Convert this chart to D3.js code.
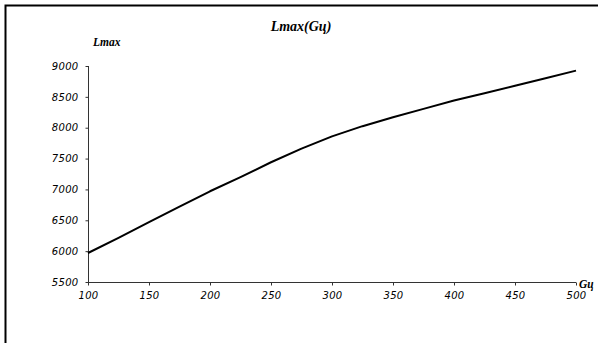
<!DOCTYPE html>
<html>
<head>
<meta charset="utf-8">
<script src="https://cdn.jsdelivr.net/npm/d3@7"></script>
<style>
  body { margin: 0; background: #fff; }
  svg { display: block; }
</style>
</head>
<body>
<svg id="chart" width="605" height="348"></svg>
<script>
// Data
var gValues = [100, 125, 150, 175, 200, 225, 250, 275, 300, 325, 350, 375, 400, 425, 450, 475, 500];
var lmaxValues = [5970, 6215, 6470, 6720, 6970, 7200, 7440, 7660, 7860, 8025, 8170, 8305, 8440, 8560, 8680, 8800, 8925];
var xTicks = [100, 150, 200, 250, 300, 350, 400, 450, 500];
var yTicks = [5500, 6000, 6500, 7000, 7500, 8000, 8500, 9000];

var svg = d3.select("#chart");

// Frame (only top and left edges are visible)
svg.append("path")
  .attr("d", "M5.5,343V5.5H598")
  .attr("fill", "none")
  .attr("stroke", "#000")
  .attr("stroke-width", 2);

// Scales
var x = d3.scaleLinear().domain([100, 500]).range([88, 576]);
var y = d3.scaleLinear().domain([5500, 9000]).range([282, 66]);

// Axes
var xAxis = svg.append("g")
  .attr("transform", "translate(0,282.5)")
  .call(d3.axisBottom(x).tickValues(xTicks).tickFormat(d3.format("d")).tickSize(3).tickPadding(6));
var yAxis = svg.append("g")
  .attr("transform", "translate(88.5,0)")
  .call(d3.axisLeft(y).tickValues(yTicks).tickFormat(d3.format("d")).tickSize(3).tickPadding(7));

[xAxis, yAxis].forEach(function (ax) {
  ax.select(".domain").attr("stroke", "#333");
  ax.selectAll(".tick line").attr("stroke", "#333");
  ax.selectAll("text")
    .style("font-family", "'DejaVu Sans', Verdana, sans-serif")
    .style("font-style", "italic")
    .style("font-size", "10px")
    .style("letter-spacing", "0.3px")
    .attr("fill", "#000");
});
xAxis.select(".domain").attr("d", "M88,0H576");
yAxis.select(".domain").attr("d", "M0,66V282");

// The curve
var line = d3.line()
  .x(function (d, i) { return x(gValues[i]); })
  .y(function (d) { return y(d); });

svg.append("path")
  .datum(lmaxValues)
  .attr("d", line)
  .attr("fill", "none")
  .attr("stroke", "#000")
  .attr("stroke-width", 2)
  .attr("stroke-linejoin", "round");

// Titles
function label(txt, px, py, anchor, size) {
  svg.append("text")
    .attr("x", px)
    .attr("y", py)
    .attr("text-anchor", anchor)
    .style("font-family", "'Liberation Serif', 'Times New Roman', serif")
    .style("font-weight", "bold")
    .style("font-style", "italic")
    .style("font-size", size + "px")
    .text(txt);
}
label("Lmax(Gц)", 301, 31, "middle", 14);
label("Lmax", 93, 46, "start", 11.5);
label("Gц", 579, 288, "start", 11.5);
</script>
</body>
</html>
